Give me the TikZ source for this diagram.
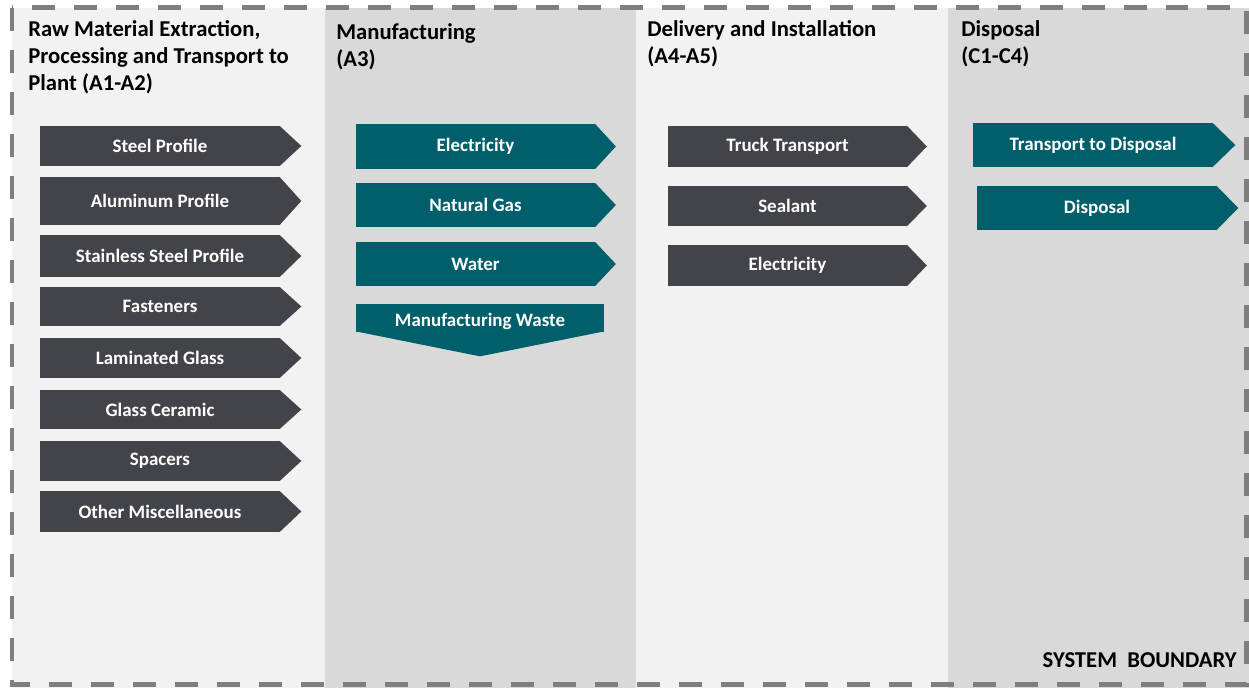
\documentclass[tikz,border=0pt]{standalone}
\usepackage{fontspec}
\setmainfont{Carlito}
\usetikzlibrary{calc}
\definecolor{boxgray}{HTML}{434449}
\definecolor{boxteal}{HTML}{005F6B}
\definecolor{lanelight}{HTML}{F2F2F2}
\definecolor{lanedark}{HTML}{D9D9D9}
\definecolor{linegray}{HTML}{7F7F7F}
\tikzset{
    flowbox/.style={inner sep=0pt, minimum width=4.8cm, text=white, font=\bfseries\fontsize{10.8}{12}\selectfont},
    graybox/.style={flowbox, fill=boxgray},
    tealbox/.style={flowbox, fill=boxteal},
    lanehead/.style={anchor=north west, align=left, inner sep=0pt, font=\bfseries\fontsize{12.9}{15.3}\selectfont}
}
\begin{document}
\begin{tikzpicture}[x=0.02cm, y=-0.02cm]
        \useasboundingbox (0,0) rectangle (1249,688);
        % Lanes
        \fill[lanelight] (12,8) rectangle (325,688);
        \fill[lanedark] (325,8) rectangle (636,688);
        \fill[lanelight] (636,8) rectangle (948,688);
        \fill[lanedark] (948,8) rectangle (1249,688);
        \draw[linegray, line width=0.1cm, dash pattern=on 0.46cm off 0.38cm] (12,8) rectangle (1246,685);

        % Lane headings
        \node[lanehead] (head1) at (28,20) {Raw Material Extraction,\\Processing and Transport to\\Plant (A1-A2)};
        \node[lanehead] (head2) at (336,23) {Manufacturing\\(A3)};
        \node[lanehead] (head3) at (647,20) {Delivery and Installation\\(A4-A5)};
        \node[lanehead] (head4) at (961,20) {Disposal\\(C1-C4)};

        % Raw materials
        \foreach \y/\h/\label [count=\i] in {
            146/40/Steel Profile,
            201/48/Aluminum Profile,
            256/42/Stainless Steel Profile,
            306.5/39/Fasteners,
            358/40/Laminated Glass,
            409.5/39/Glass Ceramic,
            461/40/Spacers,
            511.5/41/Other Miscellaneous
        } {
            \node[graybox, minimum height=\h*0.02cm] (raw\i) at (160,\y) {\label};
            \fill[boxgray] ($(raw\i.north east)+(-1,0)$) -- ($(raw\i.east)+(21,0)$) -- ($(raw\i.south east)+(-1,0)$) -- cycle;
        }

        % Manufacturing
        \foreach \y/\h/\label [count=\i] in {
            146.5/45/Electricity,
            205/44/Natural Gas,
            264/44/Water
        } {
            \node[tealbox, minimum height=\h*0.02cm] (man\i) at (475.5,\y) {\label};
            \fill[boxteal] ($(man\i.north east)+(-1,0)$) -- ($(man\i.east)+(20,0)$) -- ($(man\i.south east)+(-1,0)$) -- cycle;
        }
        \node[tealbox, minimum width=4.96cm, minimum height=0.56cm, text height=0.36cm, text depth=0pt] (waste) at (480,318) {Manufacturing Waste};
        \fill[boxteal] ($(waste.south west)+(0,-1)$) -- ($(waste.south)+(0,24)$) -- ($(waste.south east)+(0,-1)$) -- cycle;

        % Delivery
        \foreach \y/\h/\label [count=\i] in {
            146.5/41/Truck Transport,
            206/40/Sealant,
            265.5/41/Electricity
        } {
            \node[graybox, minimum height=\h*0.02cm] (del\i) at (787.5,\y) {\label};
            \fill[boxgray] ($(del\i.north east)+(-1,0)$) -- ($(del\i.east)+(19,0)$) -- ($(del\i.south east)+(-1,0)$) -- cycle;
        }

        % Disposal
        \node[tealbox, minimum height=0.88cm] (disp1) at (1093,145) {Transport to Disposal};
        \fill[boxteal] ($(disp1.north east)+(-1,0)$) -- ($(disp1.east)+(22,0)$) -- ($(disp1.south east)+(-1,0)$) -- cycle;
        \node[tealbox, minimum height=0.88cm] (disp2) at (1097,208) {Disposal};
        \fill[boxteal] ($(disp2.north east)+(-1,0)$) -- ($(disp2.east)+(21,0)$) -- ($(disp2.south east)+(-1,0)$) -- cycle;

        \node[anchor=base east, inner sep=0pt, font=\bfseries\fontsize{12.9}{15}\selectfont] (boundary) at (1237,668) {SYSTEM\ \ BOUNDARY};
    \end{tikzpicture}
\end{document}
